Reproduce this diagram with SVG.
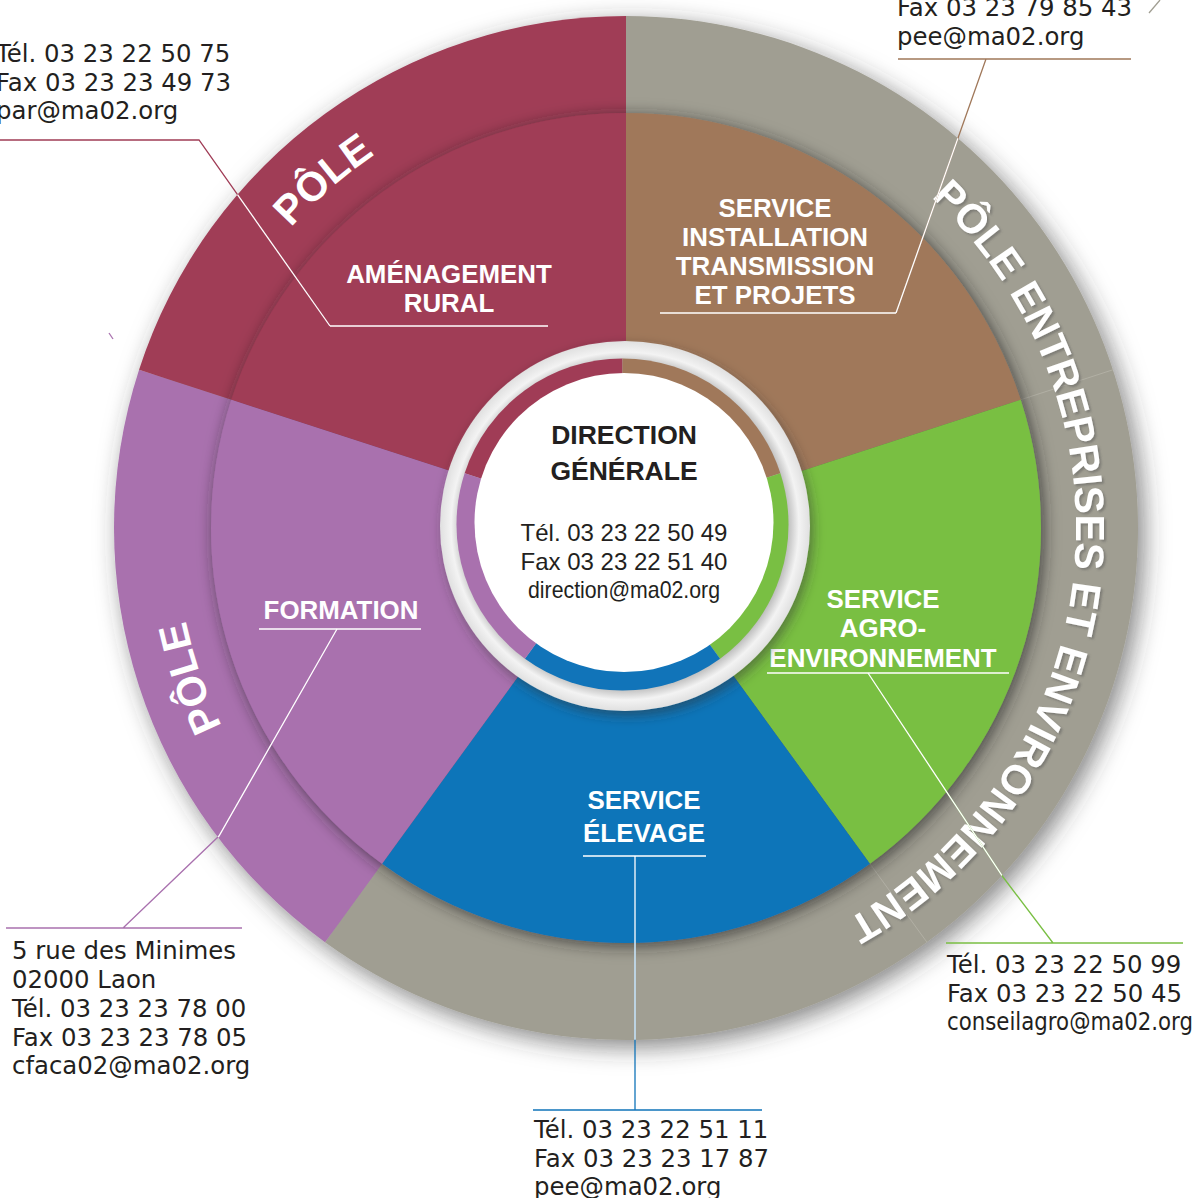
<svg xmlns="http://www.w3.org/2000/svg" xmlns:xlink="http://www.w3.org/1999/xlink" width="1197" height="1198" viewBox="0 0 1197 1198">
<style>
.lbl{font-family:"Liberation Sans",Arial,sans-serif;font-weight:bold;font-size:25.9px;fill:#fff;text-anchor:middle}
.pole{font-family:"Liberation Sans",Arial,sans-serif;font-weight:bold;font-size:41px;fill:#fff}
.ct{font-family:"DejaVu Sans",Verdana,sans-serif;font-size:24.4px;fill:#231f20}
.dirb{font-family:"Liberation Sans",Arial,sans-serif;font-weight:bold;font-size:26.5px;fill:#231f20;text-anchor:middle}
.dirt{font-family:"Liberation Sans",Arial,sans-serif;font-size:24px;fill:#231f20;text-anchor:middle}
</style>
<defs>
<filter id="shOuter" x="-20%" y="-20%" width="140%" height="140%">
<feDropShadow dx="6" dy="7" stdDeviation="12" flood-color="#333" flood-opacity="0.6"/>
</filter>
<filter id="shInner" x="-20%" y="-20%" width="140%" height="140%">
<feDropShadow dx="3" dy="3" stdDeviation="8" flood-color="#222" flood-opacity="0.7"/>
</filter>
<filter id="shHalo" x="-30%" y="-30%" width="160%" height="160%">
<feDropShadow dx="3" dy="5" stdDeviation="6" flood-color="#333" flood-opacity="0.5"/>
</filter>
<filter id="shText" x="-10%" y="-10%" width="120%" height="120%">
<feDropShadow dx="2" dy="2" stdDeviation="1" flood-color="#555" flood-opacity="0.45"/>
</filter>
<radialGradient id="haloGrad" cx="625" cy="526" r="185" gradientUnits="userSpaceOnUse">
<stop offset="0.88" stop-color="#bdbdbd"/>
<stop offset="0.94" stop-color="#f3f3f3"/>
<stop offset="1" stop-color="#e0e0e0"/>
</radialGradient>
<clipPath id="disk"><circle cx="626" cy="528" r="512"/></clipPath>
<path id="arcRight" d="M931.17,197.29 A450,450 0 0 1 742.47,962.67"/>
<path id="arcTop" d="M200.52,381.49 A450,450 0 0 1 540.14,86.27"/>
<path id="arcLeft" d="M330.77,867.62 A450,450 0 0 1 184.27,442.14"/>
</defs>

<g id="outer-ring" filter="url(#shOuter)">
<path d="M626,528 L626,16 A512,512 0 1 1 325.05,942.22 Z" fill="#a09e92"/>
<path d="M626,528 L325.05,942.22 A512,512 0 0 1 139.06,369.78 Z" fill="#a971ae"/>
<path d="M626,528 L139.06,369.78 A512,512 0 0 1 626,16 Z" fill="#a03c56"/>
</g>
<g id="ring-hairlines" stroke="#b9b7ac" stroke-width="1" opacity="0.7">
<line x1="1020.69" y1="399.76" x2="1112.94" y2="369.78"/>
<line x1="869.93" y1="863.74" x2="926.95" y2="942.22"/>
</g>

<g id="pole-labels">
<text class="pole" filter="url(#shText)"><textPath xlink:href="#arcRight" href="#arcRight">PÔLE ENTREPRISES ET ENVIRONNEMENT</textPath></text>
<text class="pole"><textPath xlink:href="#arcTop" href="#arcTop" startOffset="50%" text-anchor="middle">PÔLE</textPath></text>
<text class="pole"><textPath xlink:href="#arcLeft" href="#arcLeft" startOffset="50%" text-anchor="middle">PÔLE</textPath></text>
</g>

<g id="sectors" filter="url(#shInner)">
<path id="sec-amenagement" d="M626,528 L231.31,399.76 A415,415 0 0 1 626,113 Z" fill="#a03c56"/>
<path id="sec-installation" d="M626,528 L626,113 A415,415 0 0 1 1020.69,399.76 Z" fill="#a0785a"/>
<path id="sec-agro" d="M626,528 L1020.69,399.76 A415,415 0 0 1 869.93,863.74 Z" fill="#79bf43"/>
<path id="sec-elevage" d="M626,528 L869.93,863.74 A415,415 0 0 1 382.07,863.74 Z" fill="#1174b9"/>
<path id="sec-formation" d="M626,528 L382.07,863.74 A415,415 0 0 1 231.31,399.76 Z" fill="#a971ae"/>
</g>

<g id="connectors" fill="none" stroke-width="1.3">
<path d="M330,326 L199,140 L0,140" stroke="#a03c56"/>
<path d="M896,313 L986,59 M898,59 L1131,59" stroke="#a0785a"/>
<path d="M337,629 L219,836 L123,928 M6,928 L242,928" stroke="#a971ae"/>
<path d="M635,856 L635,1110 M533,1110 L762,1110" stroke="#1174b9"/>
<path d="M868,673 L1003,877 L1053,943 M946,943 L1183,943" stroke="#79bf43"/>
<path d="M109,333 L113,339" stroke="#a971ae"/>
<path d="M1149,13 L1160,0" stroke="#a09e92"/>
<g clip-path="url(#disk)" stroke="#fff">
<path d="M330,326 L199,140"/>
<path d="M896,313 L986,59"/>
<path d="M337,629 L219,836 L123,928"/>
<path d="M635,856 L635,1110"/>
<path d="M868,673 L1003,877 L1053,943"/>
<path d="M330,326 H548 M660,313 H896 M259,629 H421 M583,856 H706 M767,673 H1009"/>
</g>
</g>

<g id="node-amenagement">
<text class="lbl" x="449" y="283">AMÉNAGEMENT</text>
<text class="lbl" x="449" y="312">RURAL</text>
</g>
<g id="node-installation">
<text class="lbl" x="775" y="217">SERVICE</text>
<text class="lbl" x="775" y="246">INSTALLATION</text>
<text class="lbl" x="775" y="275">TRANSMISSION</text>
<text class="lbl" x="775" y="304">ET PROJETS</text>
</g>
<g id="node-formation">
<text class="lbl" x="341" y="619">FORMATION</text>
</g>
<g id="node-elevage">
<text class="lbl" x="644" y="809">SERVICE</text>
<text class="lbl" x="644" y="842">ÉLEVAGE</text>
</g>
<g id="node-agro">
<text class="lbl" x="883" y="608">SERVICE</text>
<text class="lbl" x="883" y="637">AGRO-</text>
<text class="lbl" x="883" y="667">ENVIRONNEMENT</text>
</g>

<g id="node-direction">
<circle cx="625" cy="526" r="185" fill="url(#haloGrad)" filter="url(#shHalo)"/>
<path d="M622.5,524.5 L464.62,473.2 A166,166 0 0 1 622.5,358.5 Z" fill="#a03c56"/>
<path d="M622.5,524.5 L622.5,358.5 A166,166 0 0 1 780.38,473.2 Z" fill="#a0785a"/>
<path d="M622.5,524.5 L780.38,473.2 A166,166 0 0 1 720.07,658.8 Z" fill="#79bf43"/>
<path d="M622.5,524.5 L720.07,658.8 A166,166 0 0 1 524.93,658.8 Z" fill="#1174b9"/>
<path d="M622.5,524.5 L524.93,658.8 A166,166 0 0 1 464.62,473.2 Z" fill="#a971ae"/>
<circle cx="624" cy="522.5" r="149.5" fill="#fff"/>
<text class="dirb" x="624" y="444">DIRECTION</text>
<text class="dirb" x="624" y="480">GÉNÉRALE</text>
<text class="dirt" x="624" y="541">Tél. 03 23 22 50 49</text>
<text class="dirt" x="624" y="570">Fax 03 23 22 51 40</text>
<text class="dirt" x="624" y="598" textLength="192" lengthAdjust="spacingAndGlyphs">direction@ma02.org</text>
</g>

<g id="contact-amenagement">
<text class="ct" x="-4" y="62">Tél. 03 23 22 50 75</text>
<text class="ct" x="-4" y="91">Fax 03 23 23 49 73</text>
<text class="ct" x="-4" y="119">par@ma02.org</text>
</g>
<g id="contact-installation">
<text class="ct" x="897" y="16">Fax 03 23 79 85 43</text>
<text class="ct" x="897" y="45">pee@ma02.org</text>
</g>
<g id="contact-formation">
<text class="ct" x="12" y="959">5 rue des Minimes</text>
<text class="ct" x="12" y="988">02000 Laon</text>
<text class="ct" x="12" y="1017">Tél. 03 23 23 78 00</text>
<text class="ct" x="12" y="1046">Fax 03 23 23 78 05</text>
<text class="ct" x="12" y="1074">cfaca02@ma02.org</text>
</g>
<g id="contact-elevage">
<text class="ct" x="534" y="1138">Tél. 03 23 22 51 11</text>
<text class="ct" x="534" y="1167">Fax 03 23 23 17 87</text>
<text class="ct" x="534" y="1195">pee@ma02.org</text>
</g>
<g id="contact-agro">
<text class="ct" x="947" y="973">Tél. 03 23 22 50 99</text>
<text class="ct" x="947" y="1002">Fax 03 23 22 50 45</text>
<text class="ct" x="947" y="1030" textLength="246" lengthAdjust="spacingAndGlyphs">conseilagro@ma02.org</text>
</g>
</svg>
